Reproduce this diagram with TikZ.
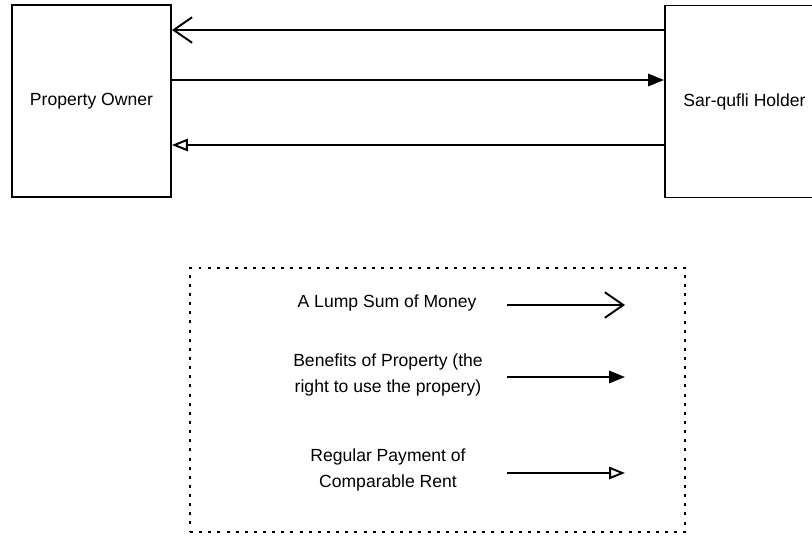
\documentclass[tikz,border=0pt]{standalone}
\usepackage{fontspec}
\setmainfont{Liberation Sans}
\usetikzlibrary{arrows.meta,calc}

\begin{document}
\begin{tikzpicture}[
  x=0.02cm, y=-0.02cm,
  font=\fontsize{10}{14.7}\selectfont,
  party/.style={draw, line width=1.1pt, minimum width=159*0.02cm, minimum height=192*0.02cm, inner sep=0pt},
  legendbox/.style={draw, line width=0.9pt, dash pattern=on 1.7pt off 3.5pt, minimum width=495*0.02cm, minimum height=264*0.02cm, inner sep=0pt},
  lab/.style={align=center, inner sep=0pt},
  flow/.style={line width=1.1pt},
  lump/.style={flow, -{Straight Barb[length=10.5pt, width=14.5pt, line width=1.1pt]}},
  benefit/.style={flow, -{Triangle[length=9pt, width=7pt]}},
  rent/.style={flow, -{Triangle[open, length=9pt, width=7pt, line width=1.1pt]}},
]
\clip (0,0) rectangle (812,535);
\fill[white] (0,0) rectangle (812,535);
% parties
\node[party] (owner)  at (91.5,101)  {Property Owner};
\node[party] (holder) at (744.5,101.5) {Sar-qufli Holder};
% exchanges
\draw[lump]    ($(holder.west)+(0,-71.5)$) -- ($(owner.east)+(0,-71)$);
\draw[benefit] ($(owner.east)+(0,-21)$) -- ($(holder.west)+(0,-21.5)$);
\draw[rent]    ($(holder.west)+(0,43.5)$) -- ($(owner.east)+(0,44)$);
% legend
\node[legendbox] (legend) at (437.5,400) {};
\node[lab] (lumptext)    at (387,303) {A Lump Sum of Money};
\node[lab] (benefittext) at (388,375) {Benefits of Property (the\\right to use the propery)};
\node[lab] (renttext)    at (388,470) {Regular Payment of\\Comparable Rent};
\coordinate (lumpend)    at (625,305);
\coordinate (benefitend) at (625,377);
\coordinate (rentend)    at (625,473);
\draw[lump]    (lumpend -| 507,0) -- (lumpend);
\draw[benefit] (benefitend -| 507,0) -- (benefitend);
\draw[rent]    (rentend -| 507,0) -- (rentend);
\end{tikzpicture}
\end{document}
